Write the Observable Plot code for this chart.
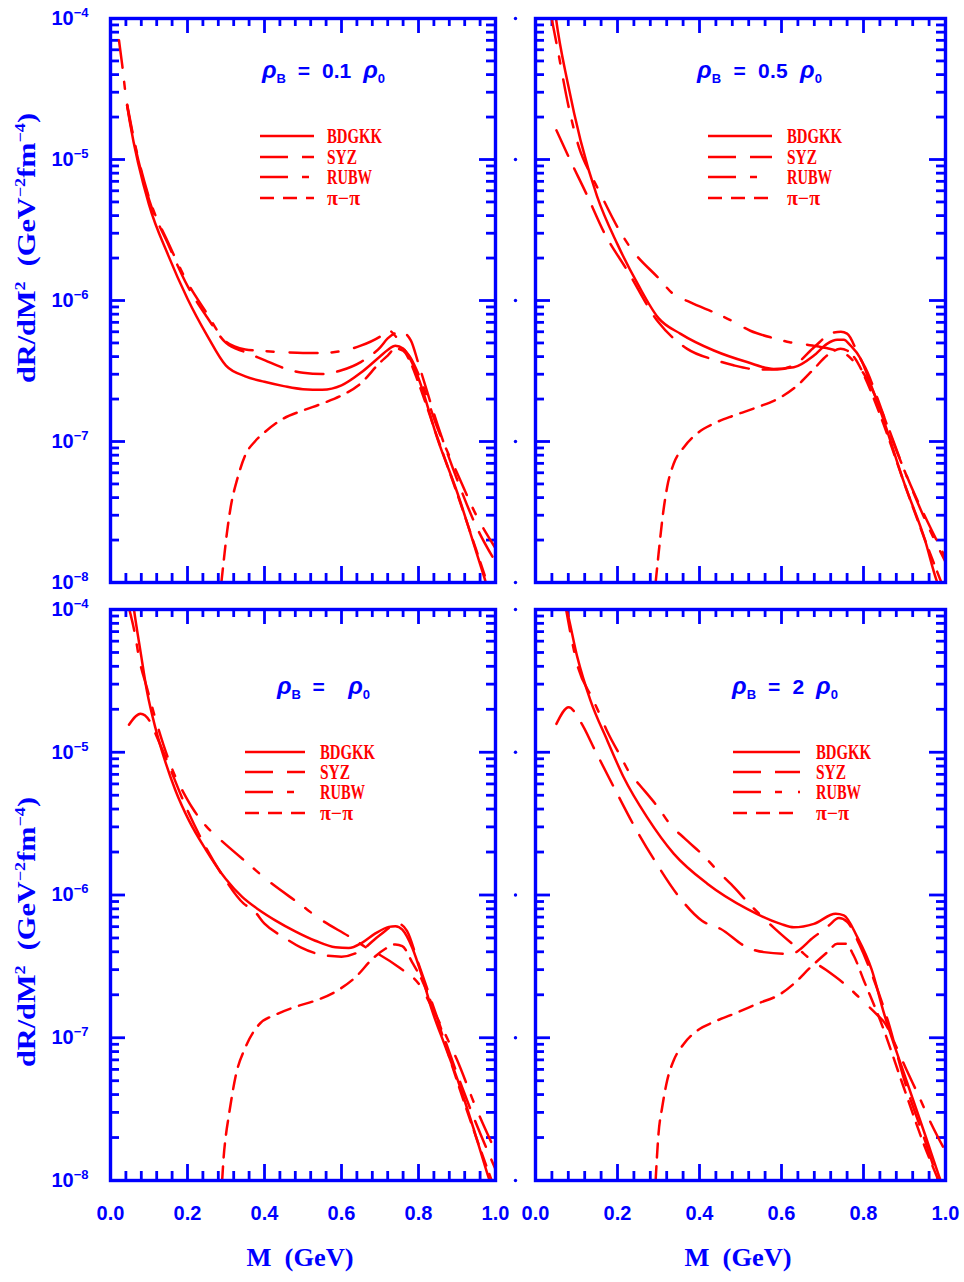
<!DOCTYPE html>
<html>
<head>
<meta charset="utf-8">
<script src="https://cdn.jsdelivr.net/npm/d3@7"></script>
<script src="https://cdn.jsdelivr.net/npm/@observablehq/plot@0.6"></script>
<style>
  html, body { margin: 0; padding: 0; background: #ffffff; }
  #chart { position: relative; width: 964px; height: 1282px; background: #ffffff; }
  #chart svg { position: absolute; overflow: visible; }
</style>
</head>
<body>
<div id="chart"></div>
<script>
const BLUE = "#0000ff", RED = "#ff0000";

// ---- categories / labels ----
const seriesNames = ["BDGKK", "SYZ", "RUBW", "π−π"];
const densityLabels = ["0.1", "0.5", "", "2"];   // rho_B = (label) rho_0

// ---- tick values ----
const xTickValues = d3.range(0, 26).map(i => i / 25);
const xMajorValues = [0, 0.2, 0.4, 0.6, 0.8, 1.0];
const yMajorValues = [1e-8, 1e-7, 1e-6, 1e-5, 1e-4];
const yMinorValues = [-8, -7, -6, -5].flatMap(e => [2, 3, 4, 5, 6, 7, 8, 9].map(k => k * Math.pow(10, e)));

// ---- data: [M (GeV), dR/dM^2 (GeV^-2 fm^-4)] ----
// Panel 1: rho_B = 0.1 rho_0
const p1_BDGKK = [[0.043,2.43e-5],[0.05,1.86e-5],[0.1,4.78e-6],[0.15,2.09e-6],[0.2,1.03e-6],[0.25,5.71e-7],[0.3,3.45e-7],[0.35,2.90e-7],[0.4,2.65e-7],[0.45,2.47e-7],[0.5,2.35e-7],[0.55,2.33e-7],[0.6,2.50e-7],[0.65,3.07e-7],[0.7,4.01e-7],[0.72,4.46e-7],[0.74,4.78e-7],[0.76,4.56e-7],[0.78,3.78e-7],[0.8,2.81e-7],[0.85,1.03e-7],[0.9,4.4e-8],[0.95,1.65e-8],[0.975,1.0e-8],[1.0,6.0e-9]];
const p1_SYZ   = [[0.043,2.43e-5],[0.05,1.91e-5],[0.1,5.22e-6],[0.15,2.50e-6],[0.2,1.27e-6],[0.25,7.67e-7],[0.3,5.0e-7],[0.35,4.3e-7],[0.4,3.78e-7],[0.45,3.32e-7],[0.5,3.07e-7],[0.55,3.01e-7],[0.6,3.20e-7],[0.65,3.66e-7],[0.7,4.64e-7],[0.72,5.38e-7],[0.74,5.88e-7],[0.755,6.0e-7],[0.78,5.22e-7],[0.8,3.56e-7],[0.85,1.30e-7],[0.9,5.4e-8],[0.95,2.5e-8],[1.0,1.4e-8]];
const p1_RUBW  = [[0.022,7.02e-5],[0.03,4.78e-5],[0.04,2.81e-5],[0.05,1.97e-5],[0.1,5.38e-6],[0.15,2.57e-6],[0.2,1.34e-6],[0.25,8.13e-7],[0.3,5.1e-7],[0.35,4.5e-7],[0.4,4.38e-7],[0.45,4.30e-7],[0.5,4.25e-7],[0.55,4.25e-7],[0.6,4.38e-7],[0.65,4.78e-7],[0.7,5.54e-7],[0.723,6.12e-7],[0.74,5.6e-7],[0.76,4.6e-7],[0.78,3.9e-7],[0.8,3.0e-7],[0.85,1.23e-7],[0.9,6.0e-8],[0.95,3.0e-8],[1.0,1.75e-8]];
const p1_pipi  = [[0.288,1.0e-8],[0.295,1.5e-8],[0.302,2.2e-8],[0.312,3.4e-8],[0.33,5.5e-8],[0.35,8.0e-8],[0.375,1.0e-7],[0.4,1.16e-7],[0.45,1.46e-7],[0.5,1.66e-7],[0.55,1.86e-7],[0.6,2.12e-7],[0.65,2.58e-7],[0.7,3.63e-7],[0.72,4.07e-7],[0.74,4.57e-7],[0.76,4.4e-7],[0.78,3.6e-7],[0.8,2.6e-7],[0.85,1.05e-7],[0.9,4.3e-8],[0.95,1.7e-8],[0.978,1.0e-8]];

// Panel 2: rho_B = 0.5 rho_0
const p2_BDGKK = [[0.045,1.3e-4],[0.05,1.0e-4],[0.079,3.44e-5],[0.11,1.36e-5],[0.15,5.5e-6],[0.2,2.5e-6],[0.25,1.3e-6],[0.3,7.5e-7],[0.354,5.8e-7],[0.435,4.42e-7],[0.516,3.66e-7],[0.581,3.27e-7],[0.63,3.36e-7],[0.679,4.07e-7],[0.711,4.93e-7],[0.736,5.26e-7],[0.752,5.26e-7],[0.768,4.8e-7],[0.793,3.86e-7],[0.817,2.57e-7],[0.841,1.66e-7],[0.9,5.0e-8],[0.95,2.0e-8],[0.98,1.0e-8],[1.0,7.5e-9]];
const p2_SYZ   = [[0.051,1.61e-5],[0.081,1.04e-5],[0.126,5.56e-6],[0.167,3.05e-6],[0.224,1.63e-6],[0.3,7.0e-7],[0.37,4.54e-7],[0.443,3.75e-7],[0.483,3.47e-7],[0.545,3.24e-7],[0.59,3.24e-7],[0.64,3.63e-7],[0.68,4.68e-7],[0.727,5.93e-7],[0.745,6.0e-7],[0.76,5.83e-7],[0.79,3.98e-7],[0.81,3.09e-7],[0.833,2.06e-7],[0.873,9.8e-8],[0.915,4.9e-8],[0.958,2.63e-8],[1.0,1.5e-8]];
const p2_RUBW  = [[0.038,1.05e-4],[0.053,6.27e-5],[0.081,2.35e-5],[0.106,1.22e-5],[0.134,7.9e-6],[0.15,6.4e-6],[0.203,3.2e-6],[0.228,2.45e-6],[0.305,1.39e-6],[0.333,1.13e-6],[0.378,9.7e-7],[0.443,8.05e-7],[0.474,7.3e-7],[0.524,6.1e-7],[0.585,5.37e-7],[0.62,5.06e-7],[0.675,4.8e-7],[0.71,4.6e-7],[0.74,4.35e-7],[0.76,4.1e-7],[0.78,3.6e-7],[0.8,3.05e-7],[0.85,1.5e-7],[0.9,6.2e-8],[0.95,2.8e-8],[1.0,1.4e-8]];
const p2_pipi  = [[0.293,1.0e-8],[0.3,1.58e-8],[0.311,3.07e-8],[0.321,4.74e-8],[0.337,6.95e-8],[0.362,9.12e-8],[0.394,1.14e-7],[0.435,1.34e-7],[0.484,1.53e-7],[0.541,1.75e-7],[0.598,2.06e-7],[0.638,2.49e-7],[0.679,3.27e-7],[0.711,4.07e-7],[0.744,4.54e-7],[0.76,4.42e-7],[0.785,3.66e-7],[0.8,3.0e-7],[0.85,1.3e-7],[0.9,5.0e-8],[0.95,2.0e-8],[0.99,1.0e-8]];

// Panel 3: rho_B = rho_0
const p3_BDGKK = [[0.058,1.15e-4],[0.061,1.0e-4],[0.078,5.07e-5],[0.095,2.65e-5],[0.117,1.47e-5],[0.139,9.16e-6],[0.169,5.38e-6],[0.203,3.36e-6],[0.247,2.09e-6],[0.299,1.30e-6],[0.342,9.7e-7],[0.385,7.89e-7],[0.429,6.62e-7],[0.481,5.54e-7],[0.532,4.78e-7],[0.584,4.30e-7],[0.619,4.25e-7],[0.654,4.64e-7],[0.688,5.38e-7],[0.723,5.98e-7],[0.74,6.05e-7],[0.758,5.71e-7],[0.784,4.25e-7],[0.81,2.65e-7],[0.835,1.56e-7],[0.87,8.63e-8],[0.905,4.78e-8],[0.948,2.09e-8],[0.983,1.03e-8],[1.0,7.5e-9]];
const p3_SYZ   = [[0.048,1.56e-5],[0.078,1.86e-5],[0.105,1.6e-5],[0.117,1.35e-5],[0.147,8.7e-6],[0.195,4.2e-6],[0.242,2.3e-6],[0.294,1.33e-6],[0.346,8.7e-7],[0.372,7.8e-7],[0.4,6.3e-7],[0.45,5.06e-7],[0.494,4.3e-7],[0.558,3.77e-7],[0.6,3.7e-7],[0.65,4.07e-7],[0.7,5.25e-7],[0.748,6.28e-7],[0.77,5.6e-7],[0.8,3.3e-7],[0.85,1.35e-7],[0.9,5.6e-8],[0.95,2.5e-8],[1.0,1.2e-8]];
const p3_RUBW  = [[0.045,1.1e-4],[0.065,6.4e-5],[0.074,4.6e-5],[0.095,2.8e-5],[0.12,1.6e-5],[0.169,6.7e-6],[0.19,5.2e-6],[0.212,4.1e-6],[0.25,3.0e-6],[0.281,2.5e-6],[0.364,1.6e-6],[0.403,1.30e-6],[0.498,8.4e-7],[0.537,7.0e-7],[0.623,5.06e-7],[0.675,4.12e-7],[0.7,3.8e-7],[0.75,3.1e-7],[0.8,2.4e-7],[0.85,1.35e-7],[0.9,7.0e-8],[0.95,3.2e-8],[1.0,1.6e-8]];
const p3_pipi  = [[0.29,1.0e-8],[0.294,1.47e-8],[0.3,2.1e-8],[0.307,2.81e-8],[0.325,5.38e-8],[0.351,8.63e-8],[0.385,1.23e-7],[0.429,1.45e-7],[0.481,1.65e-7],[0.532,1.82e-7],[0.584,2.1e-7],[0.636,2.65e-7],[0.68,3.56e-7],[0.714,4.2e-7],[0.74,4.5e-7],[0.758,4.38e-7],[0.784,3.36e-7],[0.81,2.5e-7],[0.85,1.3e-7],[0.9,5.0e-8],[0.95,2.0e-8],[0.99,1.0e-8]];

// Panel 4: rho_B = 2 rho_0
const p4_BDGKK = [[0.068,1.2e-4],[0.076,1.0e-4],[0.102,4.64e-5],[0.134,2.31e-5],[0.175,1.21e-5],[0.215,6.68e-6],[0.272,3.51e-6],[0.337,1.95e-6],[0.419,1.20e-6],[0.516,8.0e-7],[0.598,6.28e-7],[0.63,5.94e-7],[0.679,6.28e-7],[0.732,7.38e-7],[0.752,7.2e-7],[0.785,5.07e-7],[0.82,3.0e-7],[0.85,1.48e-7],[0.9,5.5e-8],[0.95,2.1e-8],[0.988,1.0e-8],[1.0,8.0e-9]];
const p4_SYZ   = [[0.051,1.58e-5],[0.081,2.07e-5],[0.11,1.63e-5],[0.146,1.02e-5],[0.191,5.7e-6],[0.24,3.07e-6],[0.293,1.7e-6],[0.354,9.4e-7],[0.406,6.6e-7],[0.451,5.8e-7],[0.516,4.3e-7],[0.557,3.98e-7],[0.622,3.87e-7],[0.679,5.07e-7],[0.715,6.1e-7],[0.74,6.9e-7],[0.76,6.5e-7],[0.79,4.5e-7],[0.82,2.8e-7],[0.86,1.3e-7],[0.9,5.0e-8],[0.95,1.9e-8],[0.99,8.5e-9]];
const p4_RUBW  = [[0.072,1.1e-4],[0.103,4.0e-5],[0.14,2.35e-5],[0.156,1.86e-5],[0.176,1.38e-5],[0.209,9.2e-6],[0.229,7.2e-6],[0.254,5.9e-6],[0.302,4.0e-6],[0.327,3.16e-6],[0.363,2.5e-6],[0.412,1.86e-6],[0.445,1.47e-6],[0.477,1.19e-6],[0.526,8.4e-7],[0.563,6.6e-7],[0.587,5.7e-7],[0.644,4.12e-7],[0.676,3.45e-7],[0.709,2.98e-7],[0.766,2.22e-7],[0.794,1.86e-7],[0.831,1.47e-7],[0.855,1.23e-7],[0.872,9.7e-8],[0.904,6.05e-8],[0.937,3.78e-8],[0.961,2.65e-8],[1.0,1.6e-8]];
const p4_pipi  = [[0.293,1.0e-8],[0.3,2.12e-8],[0.309,3.26e-8],[0.321,5.0e-8],[0.337,6.93e-8],[0.362,9.08e-8],[0.394,1.12e-7],[0.435,1.29e-7],[0.484,1.47e-7],[0.541,1.73e-7],[0.598,2.03e-7],[0.63,2.39e-7],[0.671,3.12e-7],[0.712,3.98e-7],[0.736,4.55e-7],[0.756,4.55e-7],[0.776,3.77e-7],[0.801,2.51e-7],[0.841,1.32e-7],[0.898,4.5e-8],[0.947,1.8e-8],[0.983,1.0e-8]];

const panelSeries = [
  [p1_BDGKK, p1_SYZ, p1_RUBW, p1_pipi],
  [p2_BDGKK, p2_SYZ, p2_RUBW, p2_pipi],
  [p3_BDGKK, p3_SYZ, p3_RUBW, p3_pipi],
  [p4_BDGKK, p4_SYZ, p4_RUBW, p4_pipi]
];

// ---- styles ----
const dashes = [null, "28,14", "28,14,7,16", "14,9"];
const legendTextWidths = [55, 30, 45, 33];

// ---- layout ----
const layout = [
  {left: 0,   top: 0,   width: 500, height: 590, mL: 110, mR: 5, mT: 18, mB: 8,   yLabels: true,  xLabels: false,
   title: {x: 262, y: 78, len: 123}, legend: {x1: 260, x2: 314, tx: 327, rows: [136, 157, 177, 198]}, yTitle: 248},
  {left: 500, top: 0,   width: 450, height: 590, mL: 35,  mR: 5, mT: 18, mB: 8,   yLabels: false, xLabels: false,
   title: {x: 197, y: 78, len: 125}, legend: {x1: 208, x2: 272, tx: 287, rows: [136, 157, 177, 198]}},
  {left: 0,   top: 590, width: 500, height: 692, mL: 110, mR: 5, mT: 19, mB: 102, yLabels: true,  xLabels: true,
   title: {x: 277, y: 104, len: 93},  legend: {x1: 245, x2: 305, tx: 320, rows: [162, 182, 202, 223]}, yTitle: 342, xTitle: 300},
  {left: 500, top: 590, width: 450, height: 692, mL: 35,  mR: 5, mT: 19, mB: 102, yLabels: false, xLabels: true,
   title: {x: 232, y: 104, len: 106}, legend: {x1: 233, x2: 300, tx: 316, rows: [162, 182, 202, 223]}, xTitle: 238}
];

const SANS = "'Liberation Sans', Arial, sans-serif";
const SERIF = "'Liberation Serif', 'Times New Roman', serif";

function buildPanel(p, idx) {
  const W = p.width - p.mL - p.mR;
  const H = p.height - p.mT - p.mB;
  const xMinor = xTickValues.filter((d, i) => i % 5 !== 0);
  const xMajIn = xMajorValues.filter(d => d > 0 && d < 1);
  const yMajIn = yMajorValues.filter(d => d > 1e-8 && d < 1e-4);
  const tk = {stroke: BLUE, strokeWidth: 2.8};

  const marks = [
    Plot.tickX(xMinor, {x: d => d, ...tk, insetTop: H - 9}),
    Plot.tickX(xMinor, {x: d => d, ...tk, insetBottom: H - 8}),
    Plot.tickX(xMajIn, {x: d => d, ...tk, insetTop: H - 16}),
    Plot.tickX(xMajIn, {x: d => d, ...tk, insetBottom: H - 15}),
    Plot.tickY(yMinorValues, {y: d => d, ...tk, insetRight: W - 9}),
    Plot.tickY(yMinorValues, {y: d => d, ...tk, insetLeft: W - 9}),
    Plot.tickY(yMajIn, {y: d => d, ...tk, insetRight: W - 15}),
    Plot.tickY(yMajIn, {y: d => d, ...tk, insetLeft: W - 16})
  ];

  panelSeries[idx].forEach((data, i) => {
    const opts = {x: d => d[0], y: d => d[1], stroke: RED, strokeWidth: 2.5, curve: "monotone-x", clip: true};
    if (dashes[i]) opts.strokeDasharray = dashes[i];
    marks.push(Plot.line(data, opts));
  });

  marks.push(Plot.frame({stroke: BLUE, strokeWidth: 3.4}));

  if (p.yLabels) {
    marks.push(Plot.axisY({
      ticks: yMajorValues, anchor: "left", tickSize: 0, tickPadding: 22, label: null,
      tickFormat: d => "10^−" + (-Math.round(Math.log10(d))),
      fontSize: 20, fontWeight: "bold", fontFamily: SANS, color: BLUE
    }));
  } else {
    marks.push(Plot.dot(yMajorValues, {y: d => d, frameAnchor: "left", dx: -20, r: 1.7, fill: BLUE}));
  }
  if (p.xLabels) {
    marks.push(Plot.axisX({
      ticks: xMajorValues, anchor: "bottom", tickSize: 0, tickPadding: 25, label: null,
      tickFormat: d3.format(".1f"),
      fontSize: 20, fontWeight: "bold", fontFamily: SANS, color: BLUE
    }));
  }

  const svg = Plot.plot({
    width: p.width, height: p.height,
    marginLeft: p.mL, marginRight: p.mR, marginTop: p.mT, marginBottom: p.mB,
    x: {domain: [0, 1], axis: null},
    y: {type: "log", domain: [1e-8, 1e-4], axis: null},
    style: {background: "transparent", color: BLUE, overflow: "visible"},
    marks
  });
  svg.style.left = p.left + "px";
  svg.style.top = p.top + "px";
  svg.style.overflow = "visible";
  svg.style.maxWidth = "none";

  const s = d3.select(svg);

  // superscripts in y tick labels
  s.selectAll('g[aria-label="y-axis tick label"] text').each(function () {
    const t = this.textContent;
    if (!t.includes("^")) return;
    const [base, exp] = t.split("^");
    const el = d3.select(this);
    el.text(null);
    el.append("tspan").text(base);
    el.append("tspan").attr("dy", -8).style("font-size", "13px").text(exp);
  });

  const g = s.append("g").attr("text-anchor", "start");

  // title: rho_B = x rho_0
  const tt = g.append("text")
    .attr("x", p.title.x).attr("y", p.title.y)
    .attr("text-anchor", "start")
    .attr("fill", BLUE).attr("font-family", SANS).attr("font-weight", "bold").attr("font-size", 21)
    .attr("xml:space", "preserve").style("white-space", "pre")
    .attr("textLength", p.title.len).attr("lengthAdjust", "spacing");
  tt.append("tspan").attr("font-style", "italic").attr("font-size", 24).text("ρ");
  tt.append("tspan").attr("font-size", 13).attr("dy", 5).text("B");
  tt.append("tspan").attr("dy", -5).text("  =  " + densityLabels[idx] + "  ");
  tt.append("tspan").attr("font-style", "italic").attr("font-size", 24).text("ρ");
  tt.append("tspan").attr("font-size", 13).attr("dy", 5).text("0");

  // legend
  seriesNames.forEach((name, i) => {
    const y = p.legend.rows[i];
    const ln = g.append("line")
      .attr("x1", p.legend.x1).attr("x2", p.legend.x2).attr("y1", y).attr("y2", y)
      .attr("stroke", RED).attr("stroke-width", 2.5);
    if (dashes[i]) ln.attr("stroke-dasharray", dashes[i]);
    g.append("text")
      .attr("x", p.legend.tx).attr("y", y + 7)
      .attr("text-anchor", "start")
      .attr("fill", RED).attr("font-family", SERIF).attr("font-weight", "bold").attr("font-size", 20)
      .attr("textLength", legendTextWidths[i]).attr("lengthAdjust", "spacingAndGlyphs")
      .text(name);
  });

  // y-axis title
  if (p.yTitle !== undefined) {
    const yt = g.append("text")
      .attr("transform", `translate(35,${p.yTitle}) rotate(-90)`)
      .attr("text-anchor", "middle")
      .attr("fill", BLUE).attr("font-family", SERIF).attr("font-weight", "bold").attr("font-size", 25)
      .attr("xml:space", "preserve").style("white-space", "pre")
      .attr("textLength", 270).attr("lengthAdjust", "spacingAndGlyphs");
    yt.append("tspan").text("dR/dM");
    yt.append("tspan").attr("dy", -10).attr("font-size", 15).text("2");
    yt.append("tspan").attr("dy", 10).text("  (GeV");
    yt.append("tspan").attr("dy", -10).attr("font-size", 15).text("−2");
    yt.append("tspan").attr("dy", 10).text("fm");
    yt.append("tspan").attr("dy", -10).attr("font-size", 15).text("−4");
    yt.append("tspan").attr("dy", 10).text(")");
  }

  // x-axis title
  if (p.xTitle !== undefined) {
    g.append("text")
      .attr("x", p.xTitle).attr("y", 676)
      .attr("text-anchor", "middle")
      .attr("fill", BLUE).attr("font-family", SERIF).attr("font-weight", "bold").attr("font-size", 25)
      .attr("xml:space", "preserve").style("white-space", "pre")
      .attr("textLength", 107).attr("lengthAdjust", "spacingAndGlyphs")
      .text("M  (GeV)");
  }

  return svg;
}

const chart = document.getElementById("chart");
layout.forEach((p, i) => chart.appendChild(buildPanel(p, i)));
</script>
</body>
</html>
